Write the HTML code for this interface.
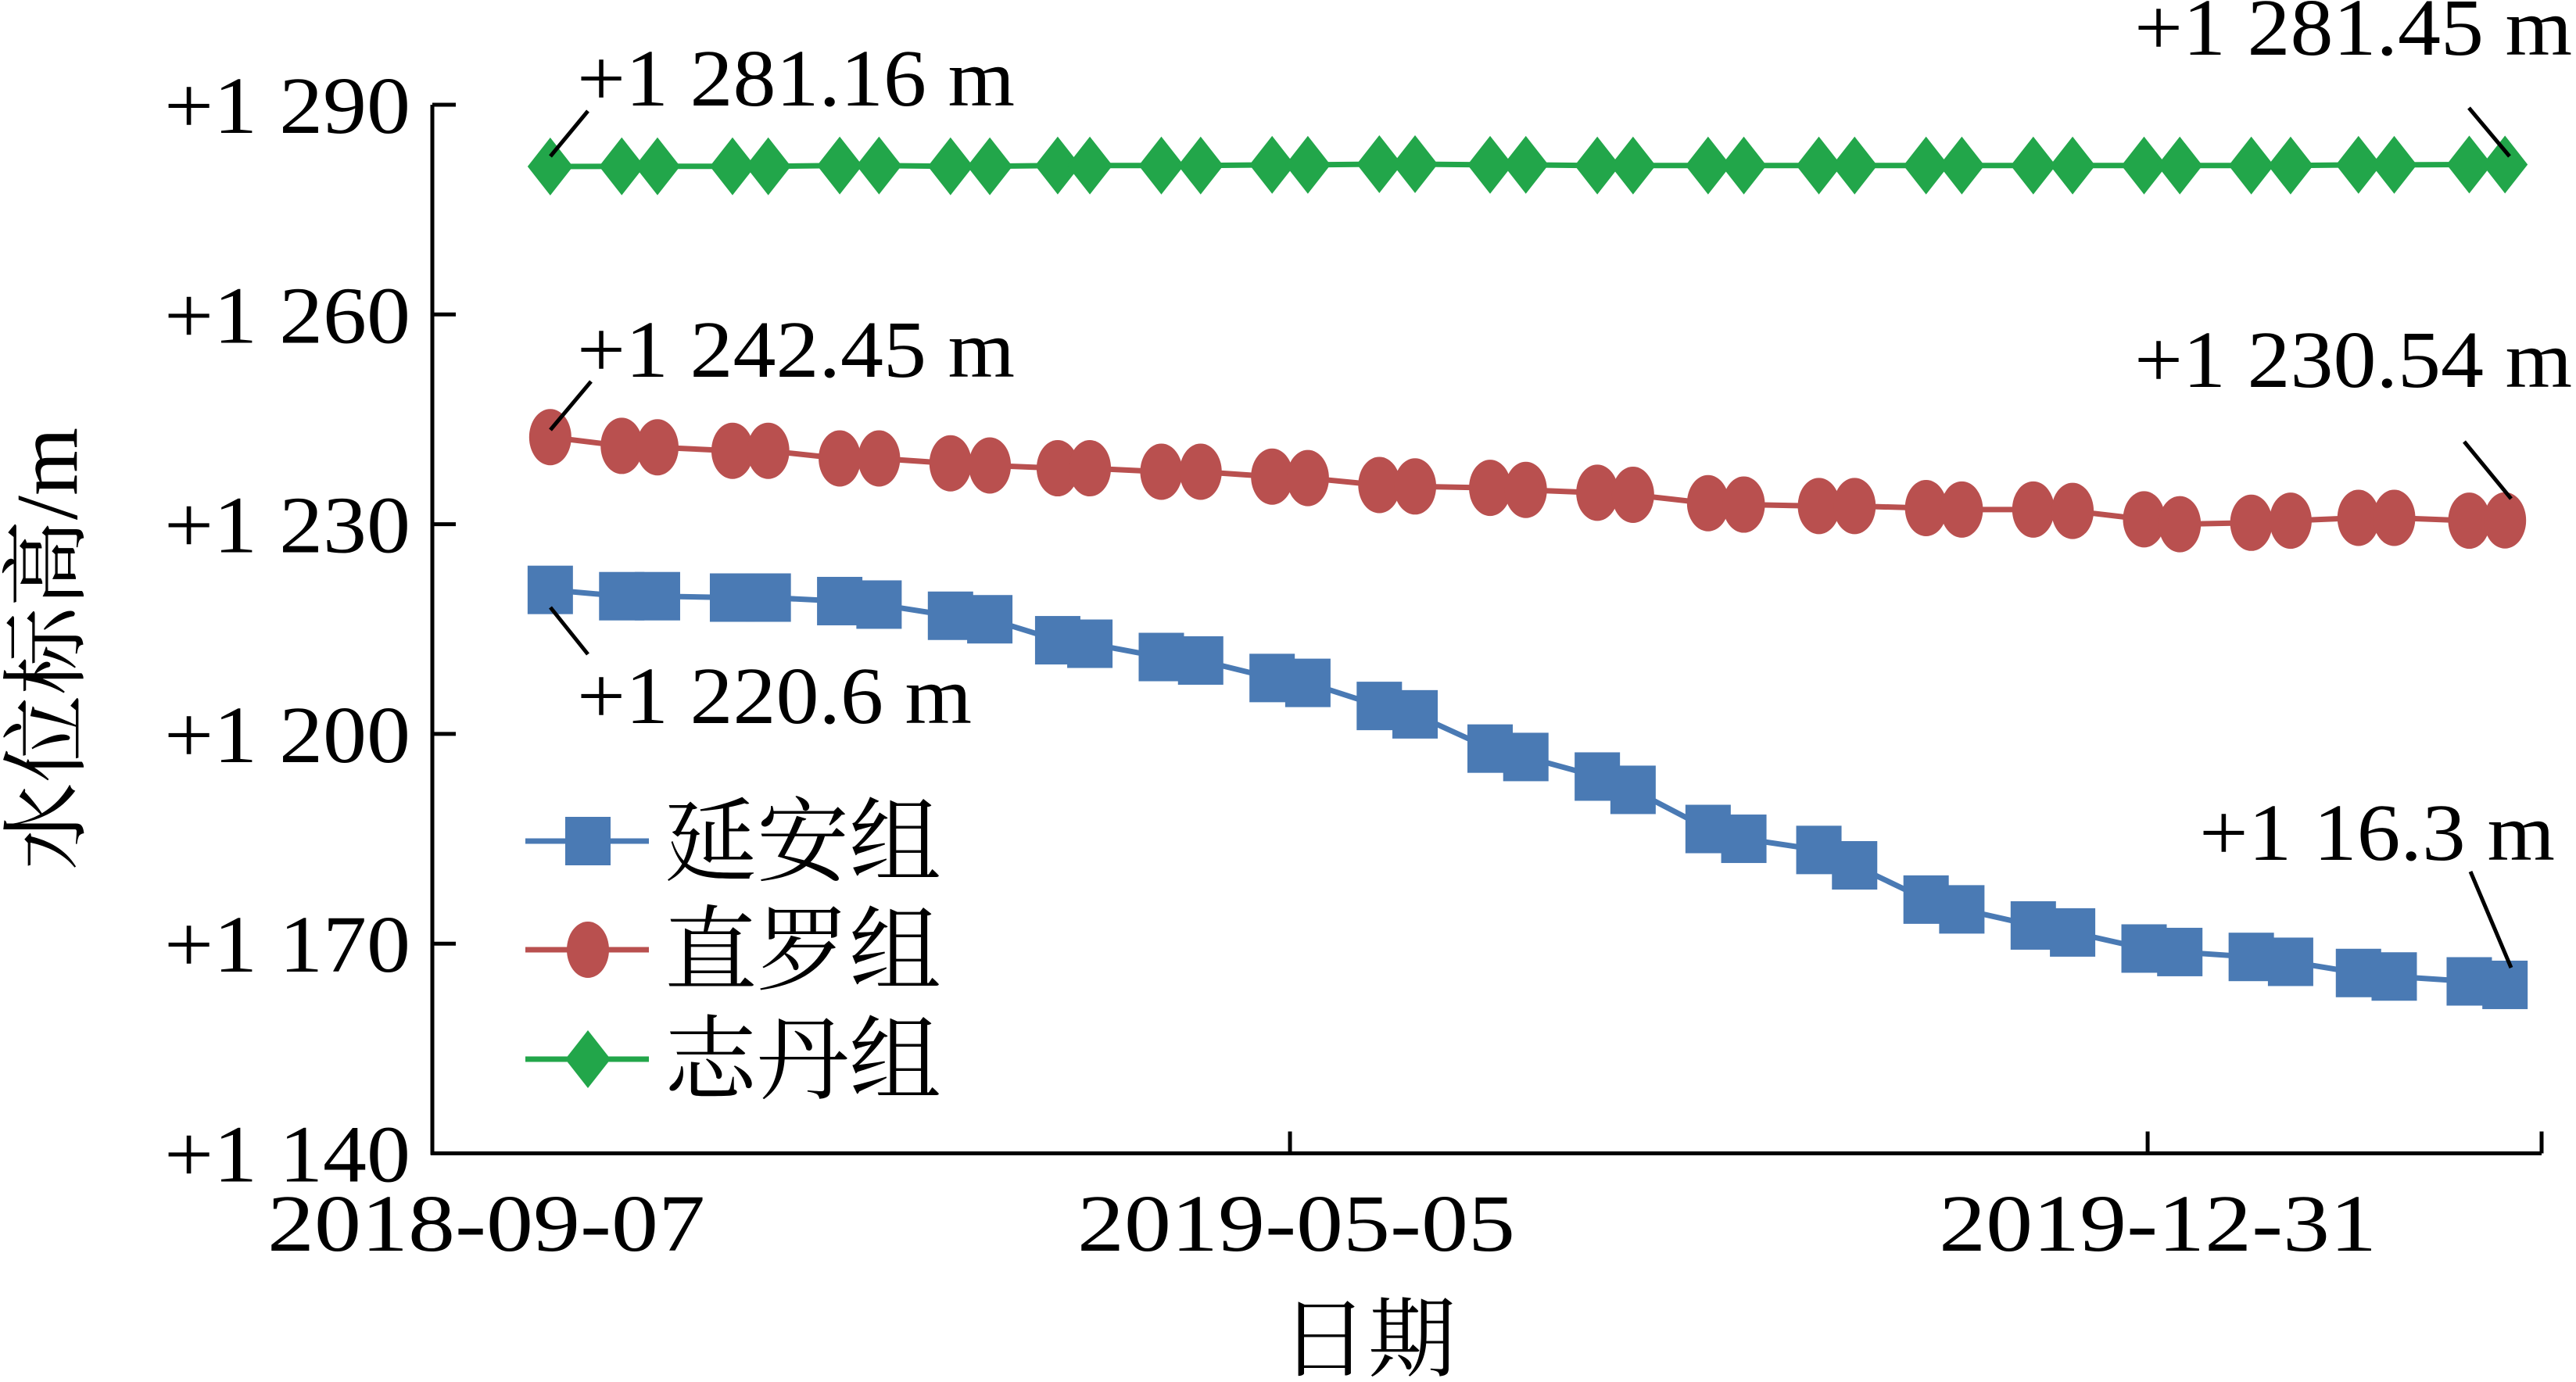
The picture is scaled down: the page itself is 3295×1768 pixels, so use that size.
<!DOCTYPE html>
<html><head><meta charset="utf-8">
<style>
html,body{margin:0;padding:0;background:#fff;}
svg{display:block;}
text{font-family:"Liberation Serif","Noto Serif CJK SC",serif;fill:#000;}
</style></head>
<body>
<svg id="chart" width="3295" height="1768" viewBox="0 0 3295 1768" xmlns="http://www.w3.org/2000/svg">
<g id="axes"></g>
<g id="series"></g>
<g id="annot"></g>
<g id="legend"></g>
</svg>
<script>
// day offsets from 2018-09-07
const dayOffsets = [33,53,63,84,94,114,125,145,156,175,184,204,215,235,245,265,275,296,306,326,336,357,367,388,398,418,428,448,459,479,489,509,520,539,549,570,580];
const yananValues = [1220.6,1219.7,1219.7,1219.5,1219.5,1219.0,1218.5,1216.9,1216.4,1213.4,1212.9,1211.0,1210.5,1208.0,1207.3,1204.0,1202.8,1197.9,1196.7,1193.9,1192.0,1186.4,1185.0,1183.4,1181.2,1176.3,1174.9,1172.6,1171.6,1169.3,1168.8,1168.1,1167.4,1165.8,1165.3,1164.6,1164.1];
const zhiluoValues = [1242.45,1241.2,1241.0,1240.5,1240.5,1239.4,1239.4,1238.7,1238.4,1238.0,1238.0,1237.5,1237.5,1236.8,1236.6,1235.6,1235.4,1235.2,1234.9,1234.5,1234.2,1233.0,1232.8,1232.6,1232.6,1232.3,1232.1,1232.1,1231.9,1230.7,1230.0,1230.2,1230.5,1230.9,1230.9,1230.5,1230.54];
const zhidanValues = [1281.16,1281.2,1281.2,1281.2,1281.2,1281.3,1281.3,1281.2,1281.2,1281.3,1281.3,1281.3,1281.3,1281.4,1281.4,1281.5,1281.5,1281.4,1281.4,1281.3,1281.3,1281.3,1281.3,1281.3,1281.3,1281.3,1281.3,1281.3,1281.3,1281.3,1281.3,1281.3,1281.3,1281.4,1281.4,1281.45,1281.45];
const yTicks = [1140,1170,1200,1230,1260,1290];
const yTickLabels = ["+1 140","+1 170","+1 200","+1 230","+1 260","+1 290"];
const xTickDays = [0,240,480];
const xTickLabels = ["2018-09-07","2019-05-05","2019-12-31"];

const NS="http://www.w3.org/2000/svg";
const X0=553, X1=3251, PXD=4.571;
const Y0=134, PXV=268.3/30;
const xLabelShift=[69,8,13];
function xs(d){return X0+d*PXD;}
function ys(v){return Y0+(1290-v)*PXV;}
function mk(tag,attrs,parent,txt){const e=document.createElementNS(NS,tag);for(const k in attrs)e.setAttribute(k,attrs[k]);if(txt!==undefined)e.textContent=txt;parent.appendChild(e);return e;}
const axes=document.getElementById('axes');
const yBot=ys(1140);
let e;
e=mk('line',{x1:X0,y1:Y0,x2:X0,y2:yBot+2,stroke:'#000','stroke-width':5},axes);


e=mk('line',{x1:X0-2,y1:yBot,x2:X1,y2:yBot,stroke:'#000','stroke-width':5},axes);


yTicks.forEach((v,i)=>{
  const t=mk('line',{x1:X0,y1:ys(v),x2:X0+30,y2:ys(v),stroke:'#000','stroke-width':5},axes);
  
  
  const l=mk('text',{x:525,y:ys(v)+36,'text-anchor':'end','font-size':104,textLength:315,lengthAdjust:'spacingAndGlyphs'},axes,yTickLabels[i]);
  
  
});
xTickDays.forEach((d,i)=>{
  const t=mk('line',{x1:xs(d),y1:yBot,x2:xs(d),y2:yBot-28,stroke:'#000','stroke-width':5},axes);
  
  
  const l=mk('text',{x:xs(d)+xLabelShift[i],y:1600,'text-anchor':'middle','font-size':104,textLength:560,lengthAdjust:'spacingAndGlyphs'},axes,xTickLabels[i]);
  
  
});
e=mk('line',{x1:X1,y1:yBot,x2:X1,y2:yBot-28,stroke:'#000','stroke-width':5},axes);


e=mk('text',{x:1750,y:1752,'text-anchor':'middle','font-size':112},axes,'日期');


e=mk('text',{x:0,y:0,'text-anchor':'middle','font-size':112,transform:'translate(98,830) rotate(-90)'},axes,'水位标高/m');



const ser=document.getElementById('series');
function marker(shape,x,y,color,parent){
  let m;
  if(shape==='square') m=mk('rect',{x:x-29,y:y-31,width:58,height:62,fill:color},parent);
  else if(shape==='circle') m=mk('ellipse',{cx:x,cy:y,rx:27,ry:36,fill:color},parent);
  else m=mk('polygon',{points:`${x},${y-37} ${x+29},${y} ${x},${y+37} ${x-29},${y}`,fill:color},parent);
  return m;
}
const seriesDefs=[
  {name:'series-yanan',vals:yananValues,color:'#4a7ab4',shape:'square'},
  {name:'series-zhiluo',vals:zhiluoValues,color:'#b9504f',shape:'circle'},
  {name:'series-zhidan',vals:zhidanValues,color:'#22a64a',shape:'diamond'}
];
seriesDefs.forEach(s=>{
  const g=mk('g',{},ser);
  
  
  const pts=s.vals.map((v,i)=>xs(dayOffsets[i])+','+ys(v)).join(' ');
  const pl=mk('polyline',{points:pts,fill:'none',stroke:s.color,'stroke-width':7},g);
  
  
  s.vals.forEach((v,i)=>{
    const m=marker(s.shape,xs(dayOffsets[i]),ys(v),s.color,g);
    
    
  });
});

const an=document.getElementById('annot');
const annots=[
  {t:'+1 281.16 m',x:738,y:135,a:'start',w:560,l:[704,200,752,142]},
  {t:'+1 281.45 m',x:3290,y:70,a:'end',w:560,l:[3158,138,3210,200]},
  {t:'+1 242.45 m',x:738,y:482,a:'start',w:560,l:[704,550,756,488]},
  {t:'+1 230.54 m',x:3290,y:495,a:'end',w:560,l:[3152,565,3212,638]},
  {t:'+1 220.6 m',x:738,y:925,a:'start',w:505,l:[704,777,752,837]},
  {t:'+1 16.3 m',x:3268,y:1100,a:'end',w:455,l:[3160,1115,3212,1238]}
];
annots.forEach(o=>{
  const t=mk('text',{x:o.x,y:o.y,'text-anchor':o.a,'font-size':104,textLength:o.w,lengthAdjust:'spacingAndGlyphs'},an,o.t);
  
  
  const l=mk('line',{x1:o.l[0],y1:o.l[1],x2:o.l[2],y2:o.l[3],stroke:'#000','stroke-width':5},an);
  
  
});

const lg=document.getElementById('legend');
const legendNames=['延安组','直罗组','志丹组'];
const legendY=[1076,1215,1355];
seriesDefs.forEach((s,i)=>{
  const g=mk('g',{},lg);
  
  
  mk('line',{x1:672,y1:legendY[i],x2:830,y2:legendY[i],stroke:s.color,'stroke-width':7},g);
  marker(s.shape,752,legendY[i],s.color,g);
  mk('text',{x:850,y:legendY[i]+42,'font-size':118},g,legendNames[i]);
});
</script>
</body></html>
